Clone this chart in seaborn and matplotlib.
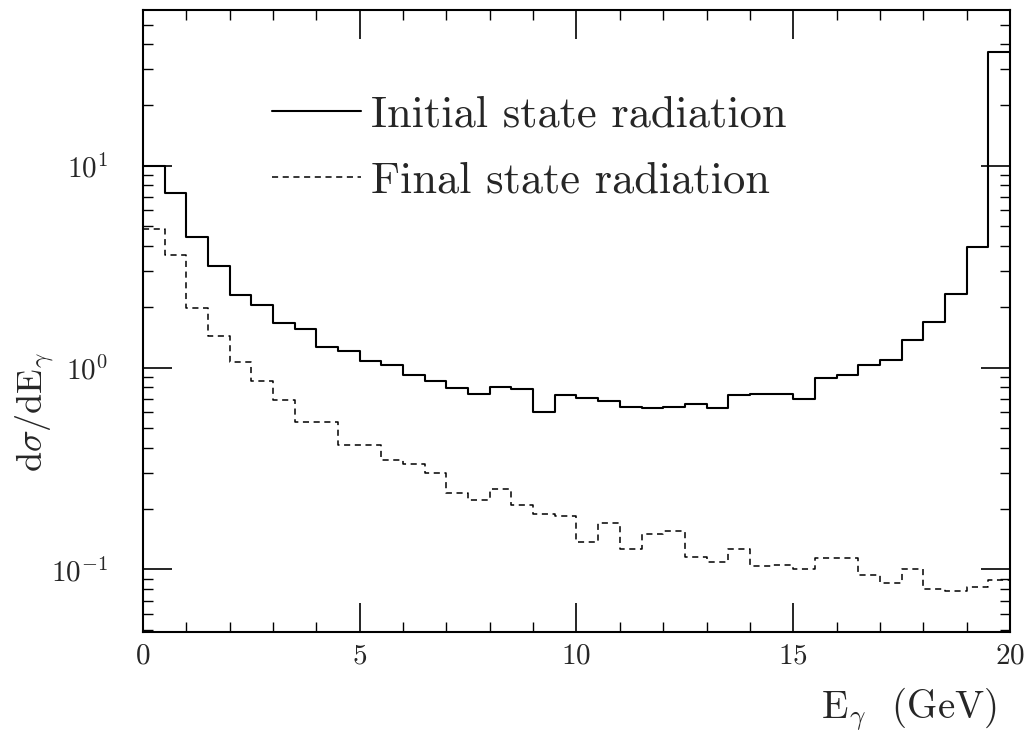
import numpy as np
import pandas as pd
import matplotlib
matplotlib.use("Agg")
import matplotlib.pyplot as plt
from matplotlib.ticker import MultipleLocator, LogLocator, NullFormatter, LogFormatterSciNotation
import seaborn as sns

# Photon energy range (GeV) and per-bin cross sections, 0.5 GeV bins
e_min, e_max = 0.0, 20.0
isr = [10.0, 7.35, 4.43, 3.18, 2.29, 2.05, 1.66, 1.55, 1.26, 1.21,
       1.08, 1.03, 0.92, 0.855, 0.79, 0.738, 0.80, 0.78, 0.603, 0.73,
       0.705, 0.684, 0.638, 0.634, 0.64, 0.658, 0.629, 0.73, 0.743, 0.74,
       0.697, 0.885, 0.916, 1.035, 1.096, 1.365, 1.69, 2.32, 3.94, 36.5]
fsr = [4.84, 3.6, 1.98, 1.44, 1.066, 0.862, 0.689, 0.538, 0.538, 0.414,
       0.414, 0.35, 0.333, 0.301, 0.24, 0.22, 0.25, 0.209, 0.188, 0.183,
       0.137, 0.17, 0.127, 0.15, 0.155, 0.115, 0.109, 0.127, 0.1035, 0.105,
       0.101, 0.114, 0.114, 0.094, 0.086, 0.1, 0.08, 0.078, 0.082, 0.0885]
labels = ["Initial state radiation", "Final state radiation"]

sns.set_theme(style="ticks")
plt.rcParams["font.family"] = ["cmr10", "DejaVu Serif"]
plt.rcParams["mathtext.fontset"] = "cm"
plt.rcParams["axes.formatter.use_mathtext"] = True

edges = np.linspace(e_min, e_max, len(isr) + 1)


def step_frame(values):
    return pd.DataFrame({"E": edges, "dsigma": np.append(values, values[-1])})


fig = plt.figure(figsize=(10.29, 7.35), dpi=100)
ax = fig.add_axes([0.139, 0.1401, 0.8425, 0.8463])

sns.lineplot(data=step_frame(isr), x="E", y="dsigma", drawstyle="steps-post",
             estimator=None, sort=False, color="black", lw=1.5, ax=ax,
             label=labels[0])
sns.lineplot(data=step_frame(fsr), x="E", y="dsigma", drawstyle="steps-post",
             estimator=None, sort=False, color="black", lw=1.1, dashes=(4, 3),
             ax=ax, label=labels[1])

ax.set_yscale("log")
ax.set_xlim(e_min, e_max)
ax.set_ylim(0.049, 59)

ax.xaxis.set_major_locator(MultipleLocator(5))
ax.xaxis.set_minor_locator(MultipleLocator(1))
ax.yaxis.set_major_locator(LogLocator(base=10))
ax.yaxis.set_minor_locator(LogLocator(base=10, subs=np.arange(2, 10)))
ax.yaxis.set_major_formatter(LogFormatterSciNotation())
ax.yaxis.set_minor_formatter(NullFormatter())

ax.tick_params(which="major", direction="in", length=21, width=1.2,
               top=True, right=True, labelsize=21, color="black")
ax.tick_params(which="minor", direction="in", length=7, width=1.0,
               top=True, right=True, color="black")
ax.tick_params(axis="x", which="major", pad=8)
ax.tick_params(axis="y", which="major", pad=25)

for side in ax.spines.values():
    side.set_linewidth(1.5)
    side.set_color("black")

ax.set_xlabel(r"$\mathrm{E}_\gamma$  (GeV)", fontsize=28)
ax.xaxis.set_label_coords(0.884, -0.086)
ax.set_ylabel(r"$\mathrm{d}\sigma/\mathrm{dE}_\gamma$", fontsize=26)
ax.yaxis.set_label_coords(-0.10, 0.354)

ax.legend(loc="upper left", bbox_to_anchor=(0.1488, 0.862), frameon=False,
          fontsize=32, handlelength=2.0, handletextpad=0.22, labelspacing=0.58,
          borderpad=0, borderaxespad=0)

fig.savefig("out.png", dpi=100, facecolor="white")
